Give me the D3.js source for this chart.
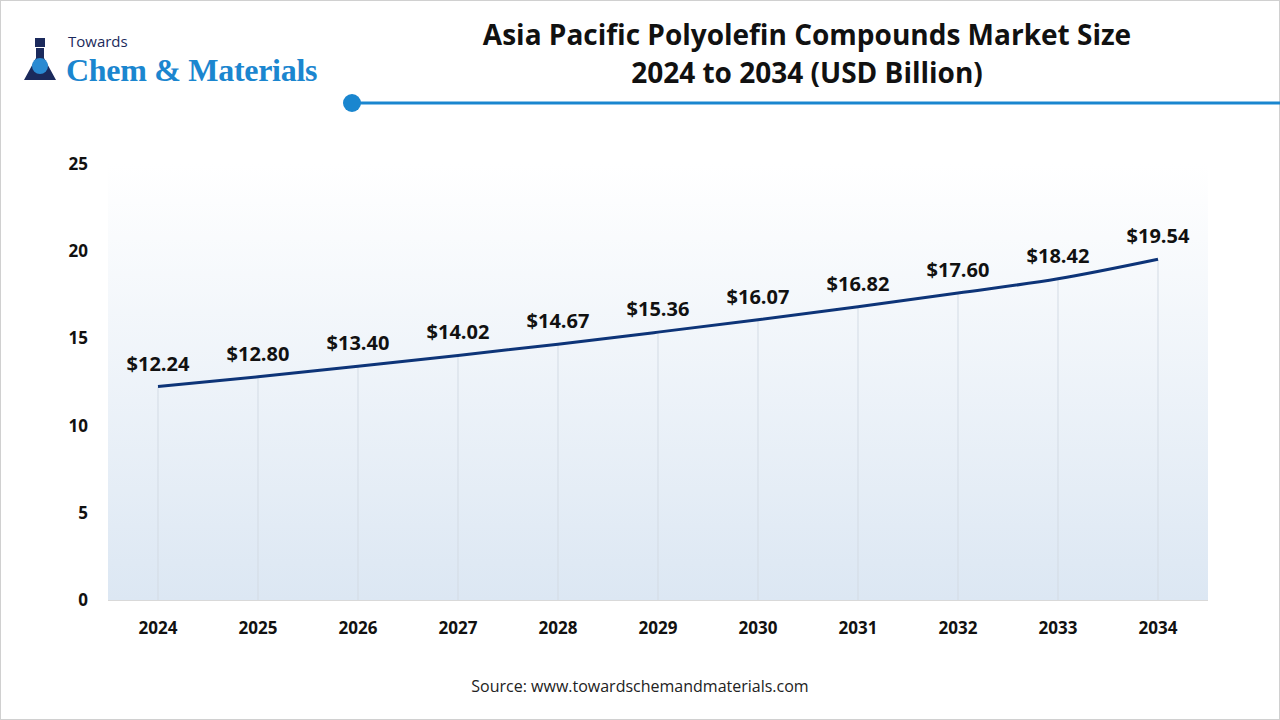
<!DOCTYPE html>
<html>
<meta charset="utf-8">
<style>
body{margin:0;background:#fff;font-family:"Open Sans",sans-serif;}
svg text{font-family:"Open Sans",sans-serif;}
</style>
<body>
<script src="https://d3js.org/d3.v7.min.js"></script>
<script>
var years=["2024","2025","2026","2027","2028","2029","2030","2031","2032","2033","2034"];
var values=[12.24,12.80,13.40,14.02,14.67,15.36,16.07,16.82,17.60,18.42,19.54];
var yTicks=[0,5,10,15,20,25];

var svg=d3.select("body").append("svg").attr("width",1280).attr("height",720);
svg.append("rect").attr("x",0.5).attr("y",0.5).attr("width",1279).attr("height",719)
  .attr("fill","#fff").attr("stroke","#d0d0d0");

var defs=svg.append("defs");
var gr=defs.append("linearGradient").attr("id","bg").attr("x1",0).attr("x2",0).attr("y1",0).attr("y2",1);
gr.append("stop").attr("offset","0%").attr("stop-color","#ffffff");
gr.append("stop").attr("offset","100%").attr("stop-color","#dce7f3");

var x=d3.scaleBand().domain(years).range([108,1208]).padding(0);
var y=d3.scaleLinear().domain([0,25]).range([600,164]);

svg.append("rect").attr("x",108).attr("y",y(25)).attr("width",1100).attr("height",600-y(25)).attr("fill","url(#bg)");

var cx=d=>x(d)+x.bandwidth()/2;

// vertical drop lines
svg.selectAll(".drop").data(years).join("line")
  .attr("x1",(d)=>cx(d)).attr("x2",(d)=>cx(d))
  .attr("y1",(d,i)=>y(values[i])).attr("y2",600)
  .attr("stroke","#d3dbe4").attr("stroke-width",1);

svg.append("line").attr("x1",108).attr("x2",1208).attr("y1",600.5).attr("y2",600.5).attr("stroke","#d9d9d9");

// y axis labels
svg.selectAll(".yt").data(yTicks).join("text")
  .attr("x",88).attr("y",d=>y(d)+6).attr("text-anchor","end")
  .attr("font-size",17).attr("font-weight",700).attr("fill","#111").text(d=>d);

// x axis labels
svg.selectAll(".xt").data(years).join("text")
  .attr("x",d=>cx(d)).attr("y",634).attr("text-anchor","middle")
  .attr("font-size",17).attr("font-weight",700).attr("fill","#111").text(d=>d);

var line=d3.line().x((d,i)=>cx(years[i])).y(d=>y(d)).curve(d3.curveMonotoneX);
svg.append("path").datum(values).attr("d",line).attr("fill","none")
  .attr("stroke","#0d3478").attr("stroke-width",3);

svg.selectAll(".vl").data(values).join("text")
  .attr("x",(d,i)=>cx(years[i])).attr("y",d=>y(d)-16).attr("text-anchor","middle")
  .attr("font-size",20).attr("font-weight",700).attr("fill","#111").text(d=>"$"+d.toFixed(2));

// title
svg.append("text").attr("x",807).attr("y",45).attr("text-anchor","middle")
  .attr("font-size",28).attr("font-weight",700).attr("fill","#111")
  .text("Asia Pacific Polyolefin Compounds Market Size");
svg.append("text").attr("x",807).attr("y",83).attr("text-anchor","middle")
  .attr("font-size",28).attr("font-weight",700).attr("fill","#111")
  .text("2024 to 2034 (USD Billion)");
svg.append("line").attr("x1",352).attr("x2",1280).attr("y1",103).attr("y2",103).attr("stroke","#1a86cf").attr("stroke-width",3);
svg.append("circle").attr("cx",352).attr("cy",103).attr("r",9).attr("fill","#1a86cf");

// logo
var lg=svg.append("g");
lg.append("path").attr("d","M36,48 L36,58 L24,80 L56,80 L44,58 L44,48 Z").attr("fill","#1b2a5c");
lg.append("rect").attr("x",35).attr("y",38).attr("width",10).attr("height",9).attr("fill","#1b2a5c");
lg.append("circle").attr("cx",40).attr("cy",66).attr("r",8).attr("fill","#2a8ad2");
svg.append("text").attr("x",68).attr("y",47).attr("font-size",15).attr("fill","#1b2a5c").text("Towards");
svg.append("text").attr("x",66).attr("y",81).attr("font-size",32).attr("font-weight",700)
  .attr("fill","#1b86cf").attr("letter-spacing",-0.3)
  .style("font-family","'Liberation Serif',serif").text("Chem & Materials");

svg.append("text").attr("x",640).attr("y",692).attr("text-anchor","middle")
  .attr("font-size",16).attr("fill","#222").text("Source: www.towardschemandmaterials.com");
</script>
</body>
</html>
